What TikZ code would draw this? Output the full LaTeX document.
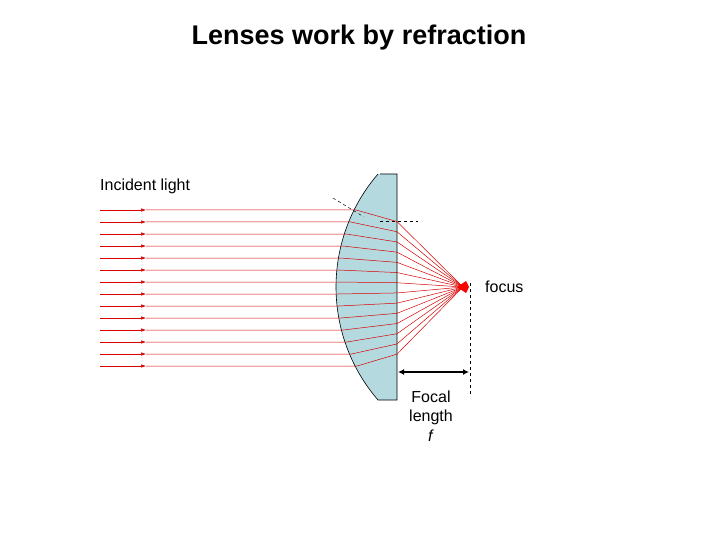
\documentclass[tikz,border=0pt]{standalone}
\usepackage{fontspec}
\setmainfont{Liberation Sans}
\usetikzlibrary{arrows.meta}
\begin{document}
\begin{tikzpicture}[x=1pt,y=-1pt,
  ray/.style={red!85!black,line width=0.5pt},
  lbl/.style={font=\fontsize{16}{19}\selectfont,inner sep=0pt}]
\useasboundingbox (0,0) rectangle (720,540);
\node[font=\fontsize{27}{32}\selectfont\bfseries] (title) at (359,38) {Lenses work by refraction};
% lens
\definecolor{lensc}{RGB}{180,218,224}
\filldraw[fill=lensc,draw=black,line width=0.6pt] (380,174) -- (397,174) -- (397,400) -- (378,400)
  arc[start angle={180-asin(113/173)}, end angle={180+asin(113/173)}, radius=173];
\coordinate (F) at (463,287);
\foreach \y in {210,222,234,246,258,270,282,294,306,318,330,342,354,366}{
  \pgfmathsetmacro{\ex}{511-173*sqrt(1-((\y-287)/173)^2)}
  \pgfmathsetmacro{\oy}{\y+(287-\y)*0.15}
  \coordinate (s\y) at (100,\y);
  \coordinate (a\y) at (146,\y);
  \coordinate (e\y) at (\ex,\y);
  \coordinate (o\y) at (397,\oy);
  \draw[ray,-{Latex[length=5pt,width=3.5pt]}] (s\y) -- (a\y);
  \draw[ray] (a\y) -- (e\y) -- (o\y) -- (F);
}
\fill[red] (457,287) -- (466,281) -- (469,287) -- (466,293) -- cycle;
% normals
\coordinate (n1) at (333,198); \coordinate (n2) at (364,217);
\draw[dashed,line width=0.5pt] (n1) -- (n2);
\coordinate (h1) at (380,221); \coordinate (h2) at (418,221);
\draw[dashed,line width=0.5pt] (h1) -- (h2);
\coordinate (v1) at (470,283); \coordinate (v2) at (470,396);
\draw[dashed,line width=0.5pt] (v1) -- (v2);
\coordinate (fa) at (398,372); \coordinate (fb) at (469,372);
\draw[line width=1.3pt,{Latex[length=6pt,width=6pt]}-{Latex[length=6pt,width=6pt]}] (fa) -- (fb);
\node[lbl,anchor=west] (inc) at (100,186) {Incident light};
\node[lbl,anchor=west] (foc) at (485,287) {focus};
\node[lbl,align=center,font=\fontsize{16}{19.5}\selectfont] (fl) at (431,416) {Focal\\length\\\textit{f}};
\end{tikzpicture}
\end{document}
